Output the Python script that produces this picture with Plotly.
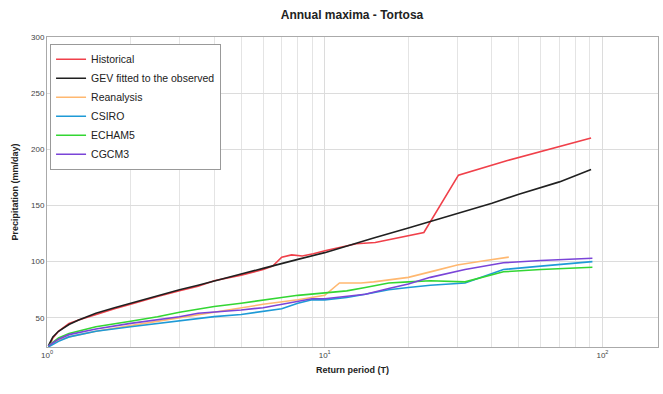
import plotly.graph_objects as go

# Return periods (T, years) and annual maxima (mm/day)
T_hist = [1.011, 1.05, 1.1, 1.2, 1.3, 1.5, 1.75, 2, 2.5, 3, 3.5, 4, 5, 6, 6.5, 7, 7.6, 8.3, 9.1, 10.1,
          11.4, 13, 15.2, 18.2, 22.75, 30.3, 45.5, 91]
P_hist = [23, 32, 38, 45, 48, 53, 58, 62, 69, 74, 78, 83, 88, 93, 96, 104, 106, 105, 107, 110,
          113, 116, 117, 121, 126, 177, 190, 210]

T_gev = [1.011, 1.05, 1.1, 1.2, 1.3, 1.5, 1.75, 2, 2.5, 3, 3.5, 4, 5, 6, 7, 8, 10, 12, 15, 20,
         25, 30, 40, 50, 70, 91]
P_gev = [25, 33, 38, 44, 48, 54, 59, 63, 69, 75, 79, 83, 89, 94, 98, 102, 108, 114, 121, 130,
         137, 143, 152, 160, 171, 182]

T_rean = [1.022, 1.1, 1.2, 1.5, 2, 3, 4, 5, 6, 8, 10, 11.3, 13.5, 15, 20, 25, 30, 38, 46]
P_rean = [26, 30, 33, 38, 43, 50, 55, 59, 62, 66, 70, 81, 81, 82, 86, 92, 97, 101, 104]

T_mod = [1.011, 1.1, 1.2, 1.5, 2, 2.5, 3, 3.5, 4, 5, 6, 7, 8, 9, 10, 12, 14, 17, 20, 24,
         32, 44, 60, 92]
P_csiro = [24, 29, 33, 38, 42, 45, 47, 49, 51, 53, 56, 58, 63, 66, 66, 68, 71, 75, 77, 79,
           81, 93, 96, 100]
P_echam = [25, 32, 36, 42, 47, 51, 55, 58, 60, 63, 66, 68, 70, 71, 72, 74, 77, 81, 82, 83,
           82, 91, 93, 95]
P_cgcm = [25, 31, 35, 40, 45, 48, 51, 54, 55, 57, 59, 62, 65, 67, 67, 69, 71, 76, 80, 86,
          93, 99, 101, 103]

series = [
    ("Historical", T_hist, P_hist, "#f0404a"),
    ("GEV fitted to the observed", T_gev, P_gev, "#202020"),
    ("Reanalysis", T_rean, P_rean, "#ffb870"),
    ("CSIRO", T_mod, P_csiro, "#1e9ad6"),
    ("ECHAM5", T_mod, P_echam, "#33d633"),
    ("CGCM3", T_mod, P_cgcm, "#7a44d8"),
]

fig = go.Figure()
for name, t, p, c in series:
    fig.add_trace(go.Scatter(x=t, y=p, mode="lines", name=name,
                             line=dict(color=c, width=1.6)))

minor_vals = [v * d for d in (1, 10, 100) for v in range(2, 10)]

fig.update_layout(
    width=663, height=394,
    margin=dict(l=47, r=5, t=37, b=47, autoexpand=False),
    paper_bgcolor="white", plot_bgcolor="white",
    font=dict(family="Liberation Sans, Arial, sans-serif", color="#222"),
    title=dict(text="<b>Annual maxima - Tortosa</b>", x=0.531, xanchor="center",
               y=0.962, yanchor="middle", font=dict(size=12, color="#222")),
    showlegend=True,
    legend=dict(x=0.005, y=0.978, xanchor="left", yanchor="top",
                bgcolor="white", bordercolor="#999", borderwidth=1,
                font=dict(size=10.5, color="#222"), tracegroupgap=0,
                itemwidth=30),
    xaxis=dict(type="log", range=[0, 2.2], automargin=False,
               tickvals=[1, 10, 100],
               ticktext=["10<sup>0</sup>", "10<sup>1</sup>", "10<sup>2</sup>"],
               showgrid=True, gridcolor="#dcdcdc", gridwidth=1,
               minor=dict(tickvals=minor_vals, showgrid=True, gridcolor="#e4e4e4", gridwidth=1),
               showline=True, linecolor="#aaa", mirror=True, ticks="",
               tickfont=dict(size=8, color="#444"),
               title=dict(text="<b>Return period (T)</b>", font=dict(size=9, color="#222"), standoff=8),
               zeroline=False),
    yaxis=dict(range=[24, 300], tickvals=[50, 100, 150, 200, 250, 300], automargin=False,
               showgrid=True, gridcolor="#dcdcdc", gridwidth=1,
               showline=True, linecolor="#aaa", mirror=True, ticks="",
               tickfont=dict(size=8, color="#444"),
               title=dict(text="<b>Precipitation (mm/day)</b>", font=dict(size=9, color="#222"), standoff=10),
               zeroline=False),
)

fig.write_html("out.html", config={"displayModeBar": False},
               post_script="document.body.style.margin='0';")
